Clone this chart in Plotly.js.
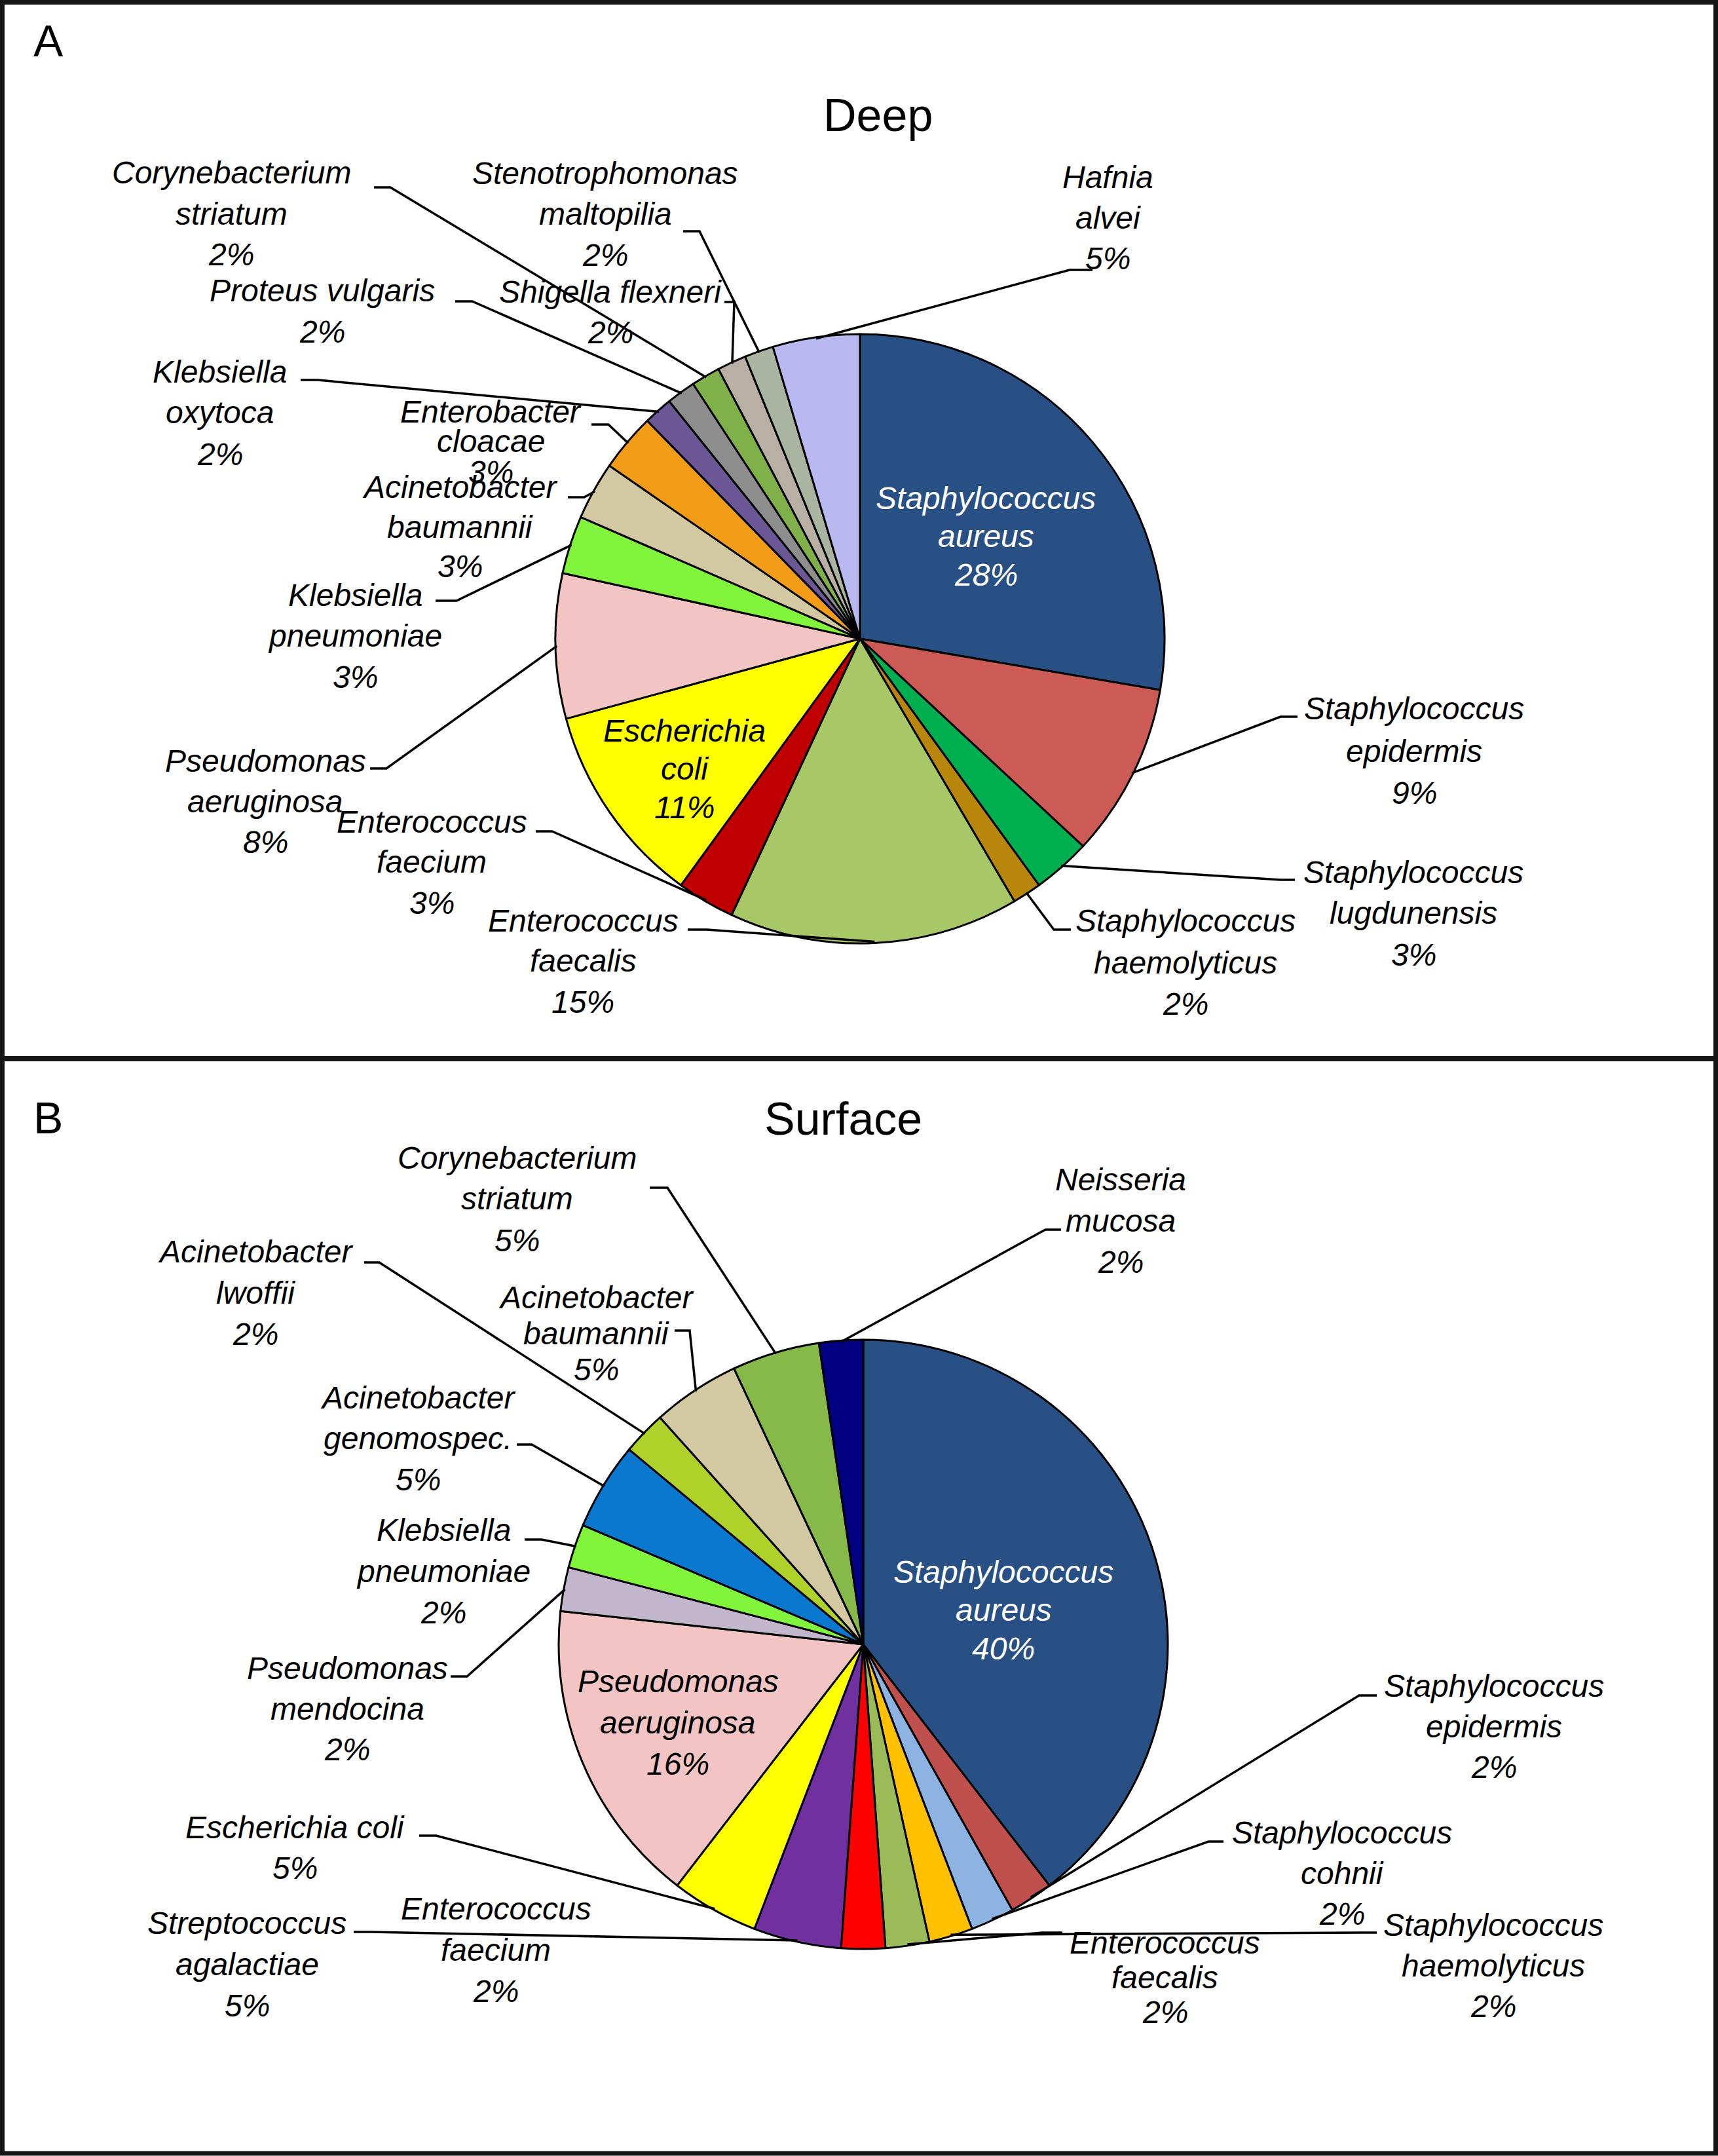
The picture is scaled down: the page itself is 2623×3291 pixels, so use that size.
<!DOCTYPE html>
<html>
<head>
<meta charset="utf-8">
<script src="https://cdn.plot.ly/plotly-3.0.1.min.js"></script>
<style>html,body{margin:0;padding:0;background:#ffffff;}</style>
</head>
<body>
<div id="chart" style="width:2623px;height:3291px;"></div>
<script>
const W = 2623, H = 3291;

// ---------- DATA ----------
const panelLetters = ['A', 'B'];
const panelTitles = ['Deep', 'Surface'];

// Deep (panel A) – isolate counts, clockwise from 12 o'clock
const deepLabels = [
  'Staphylococcus aureus', 'Staphylococcus epidermis', 'Staphylococcus lugdunensis',
  'Staphylococcus haemolyticus', 'Enterococcus faecalis', 'Enterococcus faecium',
  'Escherichia coli', 'Pseudomonas aeruginosa', 'Klebsiella pneumoniae',
  'Acinetobacter baumannii', 'Enterobacter cloacae', 'Klebsiella oxytoca',
  'Proteus vulgaris', 'Corynebacterium striatum', 'Shigella flexneri',
  'Stenotrophomonas maltopilia', 'Hafnia alvei'
];
const deepCounts = [18, 6, 2, 1, 10, 2, 7, 5, 2, 2, 2, 1, 1, 1, 1, 1, 3];
const deepColors = [
  '#285085', '#cc5a55', '#00b050', '#b8860b', '#a8c868', '#c00000',
  '#ffff00', '#f2c4c4', '#80f53c', '#d2c9a2', '#f39c18', '#6b5795',
  '#8e8e8e', '#80b04a', '#b8b0a5', '#a9b4a1', '#b9b9f2'
];

// Surface (panel B) – isolate counts, clockwise from 12 o'clock
const surfaceLabels = [
  'Staphylococcus aureus', 'Staphylococcus epidermis', 'Staphylococcus cohnii',
  'Staphylococcus haemolyticus', 'Enterococcus faecalis', 'Enterococcus faecium',
  'Streptococcus agalactiae', 'Escherichia coli', 'Pseudomonas aeruginosa',
  'Pseudomonas mendocina', 'Klebsiella pneumoniae', 'Acinetobacter genomospec.',
  'Acinetobacter lwoffii', 'Acinetobacter baumannii', 'Corynebacterium striatum',
  'Neisseria mucosa'
];
const surfaceCounts = [17, 1, 1, 1, 1, 1, 2, 2, 7, 1, 1, 2, 1, 2, 2, 1];
const surfaceColors = [
  '#285085', '#c0504d', '#8db3e2', '#ffc000', '#9bbb59', '#ff0000',
  '#7030a0', '#ffff00', '#f2c4c4', '#c1b6cb', '#80f53c', '#0b78cf',
  '#b0d12a', '#d2c9a2', '#86b84a', '#000080'
];

// ---------- LAYOUT (pixel positions of label blocks / leader elbows) ----------
const deepPie = {cx: 1313, cy: 975, r: 465};
const surfacePie = {cx: 1318, cy: 2510, r: 465};

const deepLabelPos = [
  {x:1505, y:760,  sp:58.5, inside:true, color:'#ffffff'},
  {x:2159, y:1082, sp:64, tick:[1981,1955,1094]},
  {x:2158, y:1331, sp:63, tick:[1977,1955,1343]},
  {x:1810, y:1406, sp:63, tick:[1635,1609,1419]},
  {x:890,  y:1405, sp:62, tick:[1050,1079,1419]},
  {x:659,  y:1254, sp:62, tick:[818,843,1269]},
  {x:1045, y:1115, sp:58.5, inside:true},
  {x:405,  y:1161, sp:62, tick:[565,590,1173]},
  {x:542,  y:909,  sp:62, tick:[665,697,917]},
  {x:703,  y:743,  sp:61, tick:[867,892,759]},
  {x:749,  y:628,  sp:46, tick:[903,929,648]},
  {x:336,  y:567,  sp:63, tick:[459,485,580]},
  {x:492,  y:444,  sp:62, wrap:false, tick:[695,721,460]},
  {x:353,  y:263,  sp:63, tick:[571,596,286]},
  {x:932,  y:446,  sp:62, wrap:false, tick:[1106,1121,461]},
  {x:924,  y:264,  sp:63, tick:[1043,1068,353]},
  {x:1692, y:271,  sp:62, tick:[1668,1633,412]}
];

const surfaceLabelPos = [
  {x:1532, y:2399, sp:58.5, inside:true, color:'#ffffff'},
  {x:2281, y:2573, sp:62, tick:[2102,2075,2588]},
  {x:2049, y:2797, sp:62, tick:[1868,1845,2811]},
  {x:2280, y:2938, sp:62, tick:[2102,2080,2950]},
  {x:1779, y:2965, sp:53, tick:[1622,1591,2950]},
  {x:757,  y:2913, sp:63},
  {x:377,  y:2935, sp:63, tick:[540,567,2949]},
  {x:450,  y:2789, sp:62, wrap:false, tick:[640,666,2802]},
  {x:1035, y:2566, sp:63, inside:true},
  {x:530,  y:2546, sp:62, tick:[688,713,2559]},
  {x:677,  y:2335, sp:63, tick:[801,827,2350]},
  {x:638,  y:2133, sp:62.5, tick:[789,812,2205]},
  {x:390,  y:1910, sp:63.5, tick:[556,579,1927]},
  {x:910,  y:1980, sp:55, tick:[1030,1053,2031]},
  {x:790,  y:1767, sp:63, tick:[992,1019,1813]},
  {x:1711, y:1800, sp:63, tick:[1620,1596,1877]}
];

// ---------- HELPERS ----------
const X = px => px / W;
const Y = py => 1 - py / H;
const FONT = 'Liberation Sans, Arial, Helvetica, sans-serif';
const LABEL_SIZE = 48;

function domainFor(p) {
  return {x: [X(p.cx - p.r), X(p.cx + p.r)], y: [Y(p.cy + p.r), Y(p.cy - p.r)]};
}

function pieTrace(labels, counts, colors, p) {
  return {
    type: 'pie', labels: labels, values: counts, sort: false,
    direction: 'clockwise', rotation: 0,
    marker: {colors: colors, line: {color: '#000000', width: 3}},
    textinfo: 'none', hoverinfo: 'label+percent',
    domain: domainFor(p), showlegend: false
  };
}

const annotations = [];
const shapes = [];

function addLabels(labels, counts, pos, p) {
  const total = counts.reduce((a, b) => a + b, 0);
  let cum = 0;
  labels.forEach((name, i) => {
    const c = counts[i];
    const midAngle = (cum + c / 2) / total * 2 * Math.PI;
    cum += c;
    const lp = pos[i];
    const pct = Math.round(c / total * 100) + '%';
    let lines;
    if (lp.wrap === false) {
      lines = [name, pct];
    } else {
      const k = name.indexOf(' ');
      lines = [name.slice(0, k), name.slice(k + 1), pct];
    }
    lines.forEach((t, j) => {
      annotations.push({
        xref: 'paper', yref: 'paper', x: X(lp.x), y: Y(lp.y + j * lp.sp),
        xanchor: 'center', yanchor: 'middle', showarrow: false,
        text: '<i>' + t + '</i>',
        font: {family: FONT, size: LABEL_SIZE, color: lp.color || '#000000'}
      });
    });
    if (lp.tick) {
      const rr = p.r - 2;
      const ex = p.cx + rr * Math.sin(midAngle);
      const ey = p.cy - rr * Math.cos(midAngle);
      const [x0, x1, ty] = lp.tick;
      shapes.push({
        type: 'path', xref: 'paper', yref: 'paper',
        path: `M ${X(x0)} ${Y(ty)} L ${X(x1)} ${Y(ty)} L ${X(ex)} ${Y(ey)}`,
        line: {color: '#000000', width: 3.5}
      });
    }
  });
}

addLabels(deepLabels, deepCounts, deepLabelPos, deepPie);
addLabels(surfaceLabels, surfaceCounts, surfaceLabelPos, surfacePie);

// Titles and panel letters
annotations.push({xref:'paper', yref:'paper', x:X(1341), y:Y(176), xanchor:'center', yanchor:'middle',
  showarrow:false, text:panelTitles[0], font:{family:FONT, size:70, color:'#000000'}});
annotations.push({xref:'paper', yref:'paper', x:X(1287), y:Y(1708), xanchor:'center', yanchor:'middle',
  showarrow:false, text:panelTitles[1], font:{family:FONT, size:70, color:'#000000'}});
annotations.push({xref:'paper', yref:'paper', x:X(49), y:Y(62), xanchor:'left', yanchor:'middle',
  showarrow:false, text:panelLetters[0], font:{family:FONT, size:68, color:'#000000'}});
annotations.push({xref:'paper', yref:'paper', x:X(49), y:Y(1706), xanchor:'left', yanchor:'middle',
  showarrow:false, text:panelLetters[1], font:{family:FONT, size:68, color:'#000000'}});

// Panel frames
shapes.push({type:'rect', xref:'paper', yref:'paper', x0:X(3.5), x1:X(W-3.5), y0:Y(H-4), y1:Y(3.5),
  line:{color:'#161616', width:7}, fillcolor:'rgba(0,0,0,0)'});
shapes.push({type:'line', xref:'paper', yref:'paper', x0:0, x1:1, y0:Y(1616), y1:Y(1616),
  line:{color:'#161616', width:8}});

const data = [
  pieTrace(deepLabels, deepCounts, deepColors, deepPie),
  pieTrace(surfaceLabels, surfaceCounts, surfaceColors, surfacePie)
];

const layout = {
  width: W, height: H,
  margin: {l:0, r:0, t:0, b:0, pad:0},
  paper_bgcolor: '#ffffff', plot_bgcolor: '#ffffff',
  showlegend: false,
  font: {family: FONT},
  annotations: annotations,
  shapes: shapes
};

Plotly.newPlot('chart', data, layout, {staticPlot: true, displayModeBar: false});
</script>
</body>
</html>
